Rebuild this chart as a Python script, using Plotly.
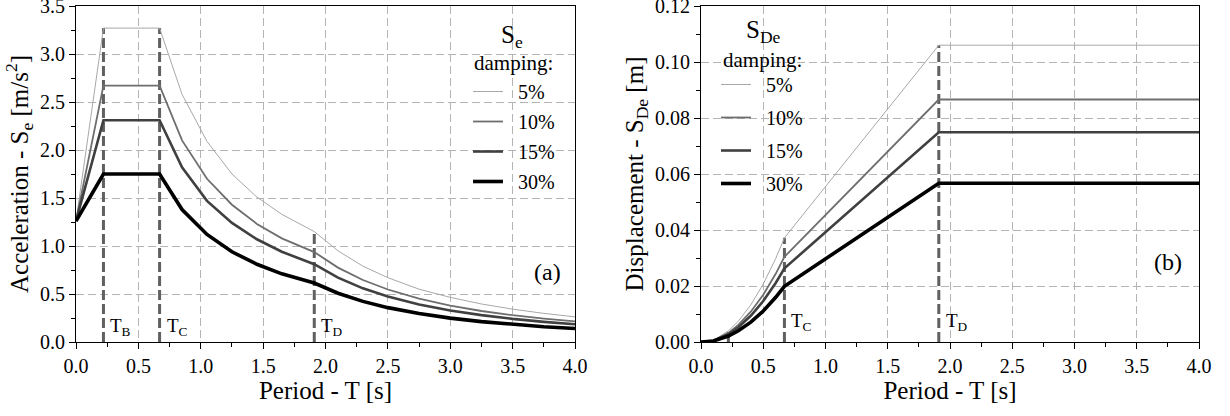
import plotly.graph_objects as go

# ---------------- data ----------------
damping_labels = ["5%", "10%", "15%", "30%"]

# elastic acceleration spectrum Se [m/s2]
period_se = [0.0, 0.22, 0.67, 0.85, 1.05, 1.25, 1.45, 1.65, 1.91, 2.1, 2.3, 2.5,
             2.75, 3.0, 3.25, 3.5, 3.75, 4.0]
se_5 = [1.26, 3.27, 3.27, 2.58, 2.09, 1.75, 1.51, 1.33, 1.15, 0.95, 0.79, 0.67,
        0.55, 0.465, 0.396, 0.342, 0.298, 0.262]
se_10 = [1.26, 2.67, 2.67, 2.10, 1.70, 1.43, 1.23, 1.08, 0.937, 0.775, 0.646, 0.547,
         0.452, 0.380, 0.323, 0.279, 0.243, 0.214]
se_15 = [1.26, 2.31, 2.31, 1.82, 1.47, 1.24, 1.07, 0.94, 0.81, 0.67, 0.559, 0.473,
         0.391, 0.328, 0.280, 0.241, 0.210, 0.185]
se_30 = [1.26, 1.75, 1.75, 1.38, 1.12, 0.94, 0.81, 0.71, 0.614, 0.508, 0.423, 0.358,
         0.296, 0.249, 0.212, 0.183, 0.159, 0.140]

# elastic displacement spectrum SDe [m]
period_sd = [0.0, 0.1, 0.22, 0.3, 0.4, 0.5, 0.6, 0.67, 1.91, 4.0]
sd_5 = [0.0, 0.00055, 0.0040, 0.00745, 0.01325, 0.0207, 0.0298, 0.0372, 0.1060, 0.1060]
sd_10 = [0.0, 0.00048, 0.00327, 0.00609, 0.01082, 0.0169, 0.02435, 0.0304, 0.0866, 0.0866]
sd_15 = [0.0, 0.00044, 0.00283, 0.00527, 0.00936, 0.01463, 0.02106, 0.0263, 0.0749, 0.0749]
sd_30 = [0.0, 0.00038, 0.00215, 0.00399, 0.00709, 0.01108, 0.01596, 0.0199, 0.0567, 0.0567]

# corner periods
corner_T = [0.22, 0.67, 1.91]
corner_labels = ["T<sub>B</sub>", "T<sub>C</sub>", "T<sub>D</sub>"]
se_corner_top = [3.27, 3.27, 1.15]
sd_corner_top = [0.0040, 0.0372, 0.1060]

# ---------------- styling ----------------
FONT = "Liberation Serif"
line_colors = ["#a8a8a8", "#6e6e6e", "#404040", "#000000"]
line_widths = [1.0, 1.8, 2.6, 3.6]
W, H = 1230, 416

def px_x(p):
    return p / W

def px_y(p):
    return 1 - p / H

fig = go.Figure()

# corner-period markers
for i, T in enumerate(corner_T):
    fig.add_trace(go.Scatter(x=[T, T], y=[0, se_corner_top[i]], mode="lines",
                             line=dict(color="#606060", width=3, dash="10px,4px"),
                             showlegend=False, hoverinfo="skip",
                             xaxis="x", yaxis="y"))
    fig.add_trace(go.Scatter(x=[T, T], y=[0, sd_corner_top[i]], mode="lines",
                             line=dict(color="#606060", width=3, dash="10px,4px"),
                             showlegend=False, hoverinfo="skip",
                             xaxis="x2", yaxis="y2"))

se_series = [se_5, se_10, se_15, se_30]
sd_series = [sd_5, sd_10, sd_15, sd_30]
for i, lab in enumerate(damping_labels):
    fig.add_trace(go.Scatter(x=period_se, y=se_series[i], mode="lines",
                             name="&nbsp;&nbsp;" + lab,
                             line=dict(color=line_colors[i], width=line_widths[i]),
                             legend="legend", legendgroup="a" + lab,
                             xaxis="x", yaxis="y"))
    fig.add_trace(go.Scatter(x=period_sd, y=sd_series[i], mode="lines",
                             name="&nbsp;&nbsp;" + lab,
                             line=dict(color=line_colors[i], width=line_widths[i]),
                             legend="legend2", legendgroup="b" + lab,
                             xaxis="x2", yaxis="y2"))

TICK_SIZE = 20
TITLE_SIZE = 25
LEG_SIZE = 20

axis_common = dict(
    showline=True, linecolor="black", linewidth=1.2, mirror=True,
    ticks="outside", ticklen=6, tickcolor="black", tickwidth=1,
    showgrid=True, gridcolor="#b4b4b4", gridwidth=1, griddash="8px,4px",
    zeroline=False, automargin=False, ticklabeloverflow="allow",
    tickfont=dict(family=FONT, size=TICK_SIZE, color="black"),
)
xaxis_common = dict(axis_common, range=[0, 4], dtick=0.5, tick0=0, tickformat=".1f",
                    minor=dict(dtick=0.25, ticklen=4, ticks="outside", tickcolor="black",
                               showgrid=False),
                    title=dict(text="Period - T [s]",
                               font=dict(family=FONT, size=TITLE_SIZE, color="black"),
                               standoff=4))

left_dom = [px_x(76), px_x(575)]
right_dom = [px_x(701), px_x(1199)]
y_dom = [px_y(342), px_y(6)]

fig.update_layout(
    width=W, height=H,
    margin=dict(l=0, r=0, t=0, b=0),
    paper_bgcolor="white", plot_bgcolor="white",
    font=dict(family=FONT, color="black"),
    xaxis=dict(xaxis_common, domain=left_dom, anchor="y"),
    yaxis=dict(axis_common, domain=y_dom, anchor="x", range=[0, 3.5], dtick=0.5, tick0=0,
               tickformat=".1f",
               minor=dict(dtick=0.25, ticklen=4, ticks="outside", tickcolor="black", showgrid=False),
               title=dict(text="Acceleration - S<sub>e</sub> [m/s<sup>2</sup>]",
                          font=dict(family=FONT, size=TITLE_SIZE, color="black"), standoff=4)),
    xaxis2=dict(xaxis_common, domain=right_dom, anchor="y2"),
    yaxis2=dict(axis_common, domain=y_dom, anchor="x2", range=[0, 0.12], dtick=0.02, tick0=0,
                tickformat=".2f",
                minor=dict(dtick=0.01, ticklen=4, ticks="outside", tickcolor="black", showgrid=False),
                title=dict(text="Displacement - S<sub>De</sub> [m]",
                           font=dict(family=FONT, size=TITLE_SIZE, color="black"), standoff=4)),
    legend=dict(x=px_x(468), y=px_y(72), xanchor="left", yanchor="top",
                bgcolor="rgba(0,0,0,0)", borderwidth=0, traceorder="grouped",
                tracegroupgap=1, itemwidth=30,
                font=dict(family=FONT, size=LEG_SIZE, color="black")),
    legend2=dict(x=px_x(716), y=px_y(65), xanchor="left", yanchor="top",
                 bgcolor="rgba(0,0,0,0)", borderwidth=0, traceorder="grouped",
                 tracegroupgap=4, itemwidth=30,
                 font=dict(family=FONT, size=LEG_SIZE, color="black")),
    showlegend=True,
)

annotations = [
    dict(text="S<sub>e</sub>", x=px_x(512), y=px_y(36)),
    dict(text="damping:", x=px_x(513), y=px_y(63)),
    dict(text="S<sub>De</sub>", x=px_x(763), y=px_y(32)),
    dict(text="damping:", x=px_x(762), y=px_y(60)),
    dict(text="(a)", x=px_x(547), y=px_y(272)),
    dict(text="(b)", x=px_x(1168), y=px_y(262)),
]
sizes = [25, 21, 25, 21, 24, 24]
for a, s in zip(annotations, sizes):
    a.update(xref="paper", yref="paper", xanchor="center", yanchor="middle",
             showarrow=False, font=dict(family=FONT, size=s, color="black"))

for i, T in enumerate(corner_T):
    annotations.append(dict(text=corner_labels[i], x=T, y=0.16, xref="x", yref="y",
                            xanchor="left", yanchor="middle", xshift=5, showarrow=False,
                            font=dict(family=FONT, size=19, color="black")))
    if i > 0:
        annotations.append(dict(text=corner_labels[i], x=T, y=0.0072, xref="x2", yref="y2",
                                xanchor="left", yanchor="middle", xshift=5, showarrow=False,
                                font=dict(family=FONT, size=19, color="black")))
fig.update_layout(annotations=annotations)

fig.write_html("out.html", config={"displayModeBar": False},
               post_script="document.body.style.margin='0px';")
